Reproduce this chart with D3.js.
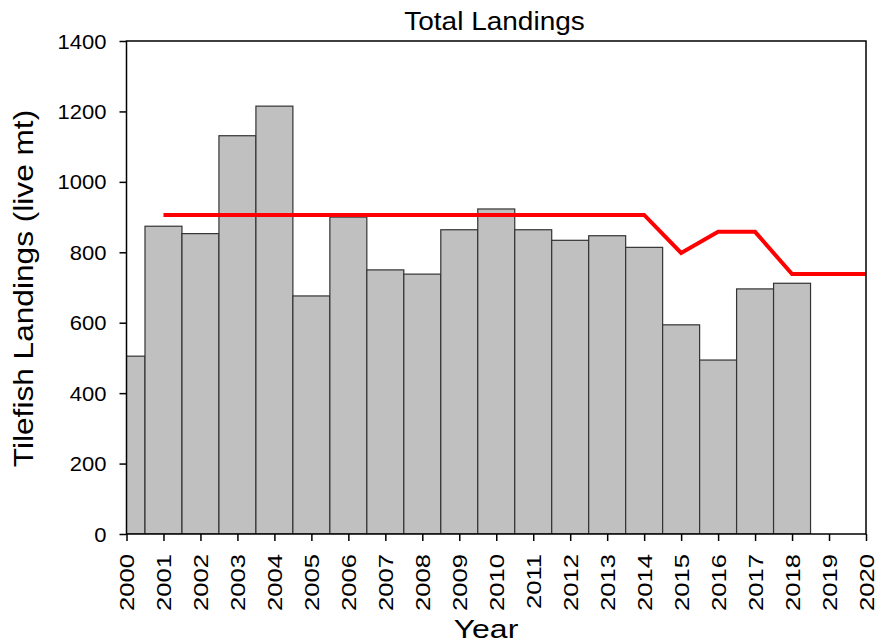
<!DOCTYPE html>
<html><head><meta charset="utf-8">
<script src="https://cdn.jsdelivr.net/npm/d3@7"></script>
<style>body{margin:0;background:#fff}svg{display:block}text{font-family:"Liberation Sans",Arial,sans-serif}</style>
</head><body><svg id="c" width="875" height="643"></svg>
<script>
const years = [2000,2001,2002,2003,2004,2005,2006,2007,2008,2009,2010,2011,2012,2013,2014,2015,2016,2017,2018];
const landings = [505,874,853,1131,1215,676,900,750,738,864,923,864,834,847,814,594,494,696,712];
const aclYears = [2001,2002,2003,2004,2005,2006,2007,2008,2009,2010,2011,2012,2013,2014,2015,2016,2017,2018,2019,2020];
const aclValues = [906,906,906,906,906,906,906,906,906,906,906,906,906,906,798,858,858,738,738,738];
const xTicks = d3.range(2000,2021);
const yTicks = [0,200,400,600,800,1000,1200,1400];

const svg = d3.select("#c");
const L=126.5,R=866,T=41,B=534;
const x = d3.scaleLinear().domain([2000,2020]).range([L,R]);
const y = d3.scaleLinear().domain([0,1400]).range([B,T]);

svg.append("clipPath").attr("id","pc").append("rect").attr("x",L).attr("y",T).attr("width",R-L).attr("height",B-T);
const g = svg.append("g").attr("clip-path","url(#pc)");
g.selectAll("rect.bar").data(years.map((d,i)=>({yr:d,v:landings[i]}))).join("rect")
  .attr("class","bar")
  .attr("x",d=>x(d.yr-0.5)).attr("width",d=>x(d.yr+0.5)-x(d.yr-0.5))
  .attr("y",d=>y(d.v)).attr("height",d=>y(0)-y(d.v))
  .attr("fill","#c0c0c0").attr("stroke","#333").attr("stroke-width",1.2);

const line = d3.line().x(d=>x(d[0])).y(d=>y(d[1]));
svg.append("path").datum(aclYears.map((d,i)=>[d,aclValues[i]]))
  .attr("d",line).attr("fill","none").attr("stroke","#ff0000").attr("stroke-width",4).attr("stroke-linejoin","miter");

// frame
svg.append("rect").attr("x",L).attr("y",T).attr("width",R-L).attr("height",B-T).attr("fill","none").attr("stroke","#000").attr("stroke-width",1.5);

const ya = svg.append("g").attr("transform",`translate(${L},0)`)
  .call(d3.axisLeft(y).tickValues(yTicks).tickSize(7).tickFormat(d3.format("d")));
ya.select(".domain").remove();
ya.attr("font-size",null).attr("font-family",null);
ya.selectAll("line").attr("stroke","#000").attr("stroke-width",1.5);
const syY = 1.1;
ya.selectAll("text").style("font-size","20px").attr("fill","#000")
  .attr("text-anchor","end").attr("transform",`scale(${syY},1)`).attr("x",-20/syY).attr("dy","0.35em");

const xa = svg.append("g").attr("transform",`translate(0,${B})`)
  .call(d3.axisBottom(x).tickValues(xTicks).tickSize(7).tickFormat(d3.format("d")));
xa.select(".domain").remove();
xa.attr("font-size",null).attr("font-family",null);
xa.selectAll("line").attr("stroke","#000").attr("stroke-width",1.5);
const sxX = 1.28;
xa.selectAll("text").style("font-size","20px").attr("fill","#000")
  .attr("transform",`rotate(-90) scale(${sxX},1)`).attr("text-anchor","end").attr("x",-20/sxX).attr("y",0).attr("dy","0.36em");

svg.append("text").attr("transform",`translate(494.5,30) scale(1.12,1)`).attr("text-anchor","middle").style("font-size","25px").text("Total Landings");
svg.append("text").attr("transform",`translate(33,${(T+B)/2+1}) rotate(-90) scale(1.13,1)`).attr("text-anchor","middle").style("font-size","28px").text("Tilefish Landings (live mt)");
svg.append("text").attr("transform",`translate(486,638) scale(1.28,1)`).attr("text-anchor","middle").style("font-size","25px").text("Year");
</script></body></html>
